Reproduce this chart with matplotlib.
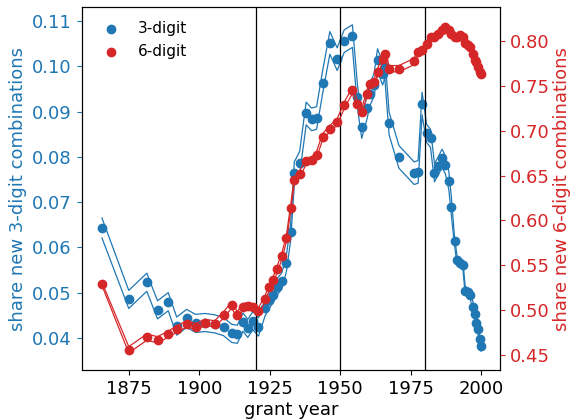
import matplotlib
matplotlib.use('Agg')
import matplotlib.pyplot as plt

# grant years (same bins for both series)
years = [1865.5, 1875.0, 1881.4, 1885.2, 1889.0, 1892.0, 1895.5, 1898.7, 1902.0, 1905.5,
         1908.6, 1911.5, 1913.5, 1915.5, 1917.2, 1919.0, 1921.0, 1923.3, 1924.8, 1926.2,
         1927.6, 1929.3, 1930.9, 1932.4, 1933.7, 1935.6, 1937.9, 1939.8, 1941.6, 1943.7,
         1946.3, 1948.9, 1951.4, 1954.3, 1956.1, 1957.6, 1959.4, 1960.6, 1962.0, 1963.2,
         1965.0, 1965.8, 1967.3, 1970.8, 1976.2, 1977.6, 1979.0, 1980.6, 1982.0, 1983.4,
         1984.7, 1986.1, 1987.3, 1988.5, 1989.4, 1990.5, 1991.4, 1992.3, 1993.5, 1994.3,
         1995.3, 1996.1, 1997.1, 1997.8, 1998.2, 1998.8, 1999.4, 1999.8]

share_3digit = [0.0643, 0.0485, 0.0523, 0.0462, 0.0480, 0.0426, 0.0443, 0.0432, 0.0434, 0.0431,
                0.0425, 0.0410, 0.0408, 0.0435, 0.0421, 0.0438, 0.0424, 0.0466, 0.0484, 0.0495,
                0.0513, 0.0526, 0.0565, 0.0633, 0.0764, 0.0787, 0.0896, 0.0883, 0.0886, 0.0964,
                0.1052, 0.1016, 0.1056, 0.1067, 0.0933, 0.0866, 0.0907, 0.0940, 0.0959, 0.1014,
                0.0984, 0.0999, 0.0874, 0.0800, 0.0764, 0.0767, 0.0918, 0.0852, 0.0841, 0.0765,
                0.0780, 0.0797, 0.0782, 0.0747, 0.0690, 0.0614, 0.0572, 0.0565, 0.0560, 0.0504,
                0.0502, 0.0495, 0.0468, 0.0453, 0.0434, 0.0419, 0.0397, 0.0381]

err_3digit = [0.0022, 0.0020, 0.0020, 0.0020, 0.0020, 0.0020, 0.0020, 0.0020, 0.0020, 0.0020,
              0.0020, 0.0020, 0.0020, 0.0020, 0.0020, 0.0020, 0.0020, 0.0018, 0.0018, 0.0018,
              0.0018, 0.0018, 0.0018, 0.0018, 0.0025, 0.0025, 0.0025, 0.0025, 0.0025, 0.0025,
              0.0025, 0.0025, 0.0025, 0.0025, 0.0025, 0.0025, 0.0025, 0.0025, 0.0025, 0.0025,
              0.0025, 0.0025, 0.0025, 0.0025, 0.0025, 0.0025, 0.0025, 0.0020, 0.0020, 0.0020,
              0.0020, 0.0020, 0.0020, 0.0020, 0.0020, 0.0009, 0.0009, 0.0009, 0.0009, 0.0009,
              0.0009, 0.0009, 0.0009, 0.0009, 0.0009, 0.0009, 0.0009, 0.0010]

share_6digit = [0.5291, 0.4556, 0.4697, 0.4667, 0.4730, 0.4786, 0.4845, 0.4815, 0.4860, 0.4845,
                0.4945, 0.5057, 0.4945, 0.5038, 0.5046, 0.5038, 0.4990, 0.5120, 0.5254, 0.5335,
                0.5454, 0.5602, 0.5800, 0.6134, 0.6449, 0.6516, 0.6660, 0.6670, 0.6735, 0.6931,
                0.7024, 0.7098, 0.7284, 0.7451, 0.7303, 0.7209, 0.7414, 0.7526, 0.7543, 0.7655,
                0.7804, 0.7860, 0.7693, 0.7693, 0.7774, 0.7877, 0.7904, 0.7971, 0.8052, 0.8052,
                0.8080, 0.8120, 0.8156, 0.8120, 0.8080, 0.8045, 0.8050, 0.8070, 0.8045, 0.7980,
                0.7960, 0.7940, 0.7860, 0.7790, 0.7766, 0.7710, 0.7655, 0.7630]

err_6digit = [0.0018, 0.0035, 0.0035, 0.0035, 0.0035, 0.0035, 0.0035, 0.0035, 0.0035, 0.0035,
              0.0035, 0.0035, 0.0035, 0.0035, 0.0035, 0.0035, 0.0035, 0.0035, 0.0035, 0.0035,
              0.0035, 0.0035, 0.0035, 0.0035, 0.0035, 0.0035, 0.0035, 0.0035, 0.0035, 0.0035,
              0.0035, 0.0035, 0.0035, 0.0035, 0.0035, 0.0035, 0.0035, 0.0035, 0.0035, 0.0035,
              0.0035, 0.0035, 0.0035, 0.0035, 0.0035, 0.0035, 0.0020, 0.0018, 0.0018, 0.0018,
              0.0018, 0.0018, 0.0018, 0.0018, 0.0018, 0.0018, 0.0018, 0.0018, 0.0018, 0.0018,
              0.0018, 0.0018, 0.0018, 0.0018, 0.0018, 0.0018, 0.0018, 0.0018]

period_breaks = [1920, 1950, 1980]

blue = 'tab:blue'
red = 'tab:red'

fig = plt.figure(figsize=(5.71, 4.2), dpi=100)
ax = fig.add_axes([0.143, 0.119, 0.733, 0.864])
ax2 = ax.twinx()

# 3-digit series with its band
up3 = [v + e for v, e in zip(share_3digit, err_3digit)]
lo3 = [v - e for v, e in zip(share_3digit, err_3digit)]
ax.plot(years, up3, color=blue, linewidth=0.9)
ax.plot(years, lo3, color=blue, linewidth=0.9)
h3 = ax.scatter(years, share_3digit, color=blue, s=36, label='3-digit')

# 6-digit series with its band
up6 = [v + e for v, e in zip(share_6digit, err_6digit)]
lo6 = [v - e for v, e in zip(share_6digit, err_6digit)]
ax2.plot(years, up6, color=red, linewidth=0.9)
ax2.plot(years, lo6, color=red, linewidth=0.9)
h6 = ax2.scatter(years, share_6digit, color=red, s=36, label='6-digit')

for yr in period_breaks:
    ax.axvline(yr, color='black', linewidth=0.9)

ax.set_xlim(1858.3, 2006.7)
ax.set_ylim(0.0329, 0.1131)
ax2.set_ylim(0.433, 0.838)

ax.set_xticks([1875, 1900, 1925, 1950, 1975, 2000])
ax.set_yticks([0.04, 0.05, 0.06, 0.07, 0.08, 0.09, 0.10, 0.11])
ax2.set_yticks([0.45, 0.50, 0.55, 0.60, 0.65, 0.70, 0.75, 0.80])

ax.set_xlabel('grant year', fontsize=13, labelpad=2)
ax.set_ylabel('share new 3-digit combinations', color=blue, fontsize=13)
ax2.set_ylabel('share new 6-digit combinations', color=red, fontsize=13, labelpad=2)

ax.tick_params(axis='x', labelsize=13)
ax.tick_params(axis='y', labelsize=13, colors=blue)
ax2.tick_params(axis='y', labelsize=13, colors=red)

ax2.legend(handles=[h3, h6], loc='upper left', frameon=False, fontsize=11)

plt.savefig('out.png', dpi=100)
